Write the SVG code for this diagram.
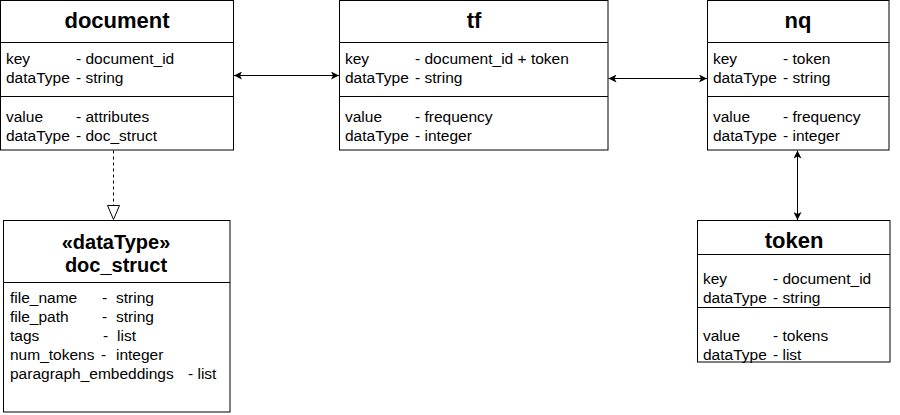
<svg xmlns="http://www.w3.org/2000/svg" width="900" height="415" viewBox="0 0 900 415">
<defs>
<marker id="arr" viewBox="0 0 10 10" refX="10" refY="5" markerWidth="8" markerHeight="8" markerUnits="userSpaceOnUse" orient="auto-start-reverse">
<path d="M0,0 L10,5 L0,10 L2.5,5 Z" fill="#000"/>
</marker>
</defs>
<style>
.box{fill:#fff;stroke:#000;stroke-width:1}
.ln{stroke:#000;stroke-width:1;fill:none}
.t{font-family:"Liberation Sans",Arial,sans-serif;font-size:22px;font-weight:bold;text-anchor:middle;fill:#000}
.t2{font-family:"Liberation Sans",Arial,sans-serif;font-size:20px;font-weight:bold;text-anchor:middle;fill:#000}
.b{font-family:"Liberation Sans",Arial,sans-serif;font-size:15.5px;fill:#000}
</style>
<rect x="0" y="0" width="900" height="415" fill="#fff"/>
<g id="document">
<rect class="box" x="0.5" y="0.5" width="233" height="149.5"/>
<line class="ln" x1="0.5" y1="42.5" x2="233.5" y2="42.5"/>
<line class="ln" x1="0.5" y1="96.5" x2="233.5" y2="96.5"/>
<text class="t" x="117" y="28">document</text>
<text class="b" x="6" y="64">key</text><text class="b" x="76" y="64">- document_id</text>
<text class="b" x="6" y="83">dataType</text><text class="b" x="76" y="83">- string</text>
<text class="b" x="6" y="122">value</text><text class="b" x="76" y="122">- attributes</text>
<text class="b" x="6" y="141">dataType</text><text class="b" x="76" y="141">- doc_struct</text>
</g>
<g id="tf">
<rect class="box" x="339.5" y="0.5" width="268.5" height="149.5"/>
<line class="ln" x1="339.5" y1="42.5" x2="608" y2="42.5"/>
<line class="ln" x1="339.5" y1="96.5" x2="608" y2="96.5"/>
<text class="t" x="474" y="28">tf</text>
<text class="b" x="345" y="64">key</text><text class="b" x="415" y="64">- document_id + token</text>
<text class="b" x="345" y="83">dataType</text><text class="b" x="415" y="83">- string</text>
<text class="b" x="345" y="122">value</text><text class="b" x="415" y="122">- frequency</text>
<text class="b" x="345" y="141">dataType</text><text class="b" x="415" y="141">- integer</text>
</g>
<g id="nq">
<rect class="box" x="707.5" y="0.5" width="181.5" height="149.5"/>
<line class="ln" x1="707.5" y1="42.5" x2="889" y2="42.5"/>
<line class="ln" x1="707.5" y1="96.5" x2="889" y2="96.5"/>
<text class="t" x="798" y="28">nq</text>
<text class="b" x="713" y="64">key</text><text class="b" x="783" y="64">- token</text>
<text class="b" x="713" y="83">dataType</text><text class="b" x="783" y="83">- string</text>
<text class="b" x="713" y="122">value</text><text class="b" x="783" y="122">- frequency</text>
<text class="b" x="713" y="141">dataType</text><text class="b" x="783" y="141">- integer</text>
</g>
<g id="doc_struct">
<rect class="box" x="3.5" y="220.5" width="226.5" height="191.5"/>
<line class="ln" x1="3.5" y1="282.5" x2="230" y2="282.5"/>
<text class="t2" x="116" y="249">«dataType»</text>
<text class="t2" x="116" y="272">doc_struct</text>
<text class="b" x="10" y="303">file_name</text><text class="b" x="102" y="303">-</text><text class="b" x="116" y="303">string</text>
<text class="b" x="10" y="322">file_path</text><text class="b" x="102" y="322">-</text><text class="b" x="116" y="322">string</text>
<text class="b" x="10" y="341">tags</text><text class="b" x="103" y="341">-</text><text class="b" x="117" y="341">list</text>
<text class="b" x="10" y="360">num_tokens</text><text class="b" x="101" y="360">-</text><text class="b" x="116" y="360">integer</text>
<text class="b" x="10" y="379">paragraph_embeddings</text><text class="b" x="188" y="379">- list</text>
</g>
<g id="token">
<rect class="box" x="697.5" y="220.5" width="192.5" height="141.5"/>
<line class="ln" x1="697.5" y1="254.5" x2="890" y2="254.5"/>
<line class="ln" x1="697.5" y1="307.5" x2="890" y2="307.5"/>
<text class="t" x="794" y="248">token</text>
<text class="b" x="703" y="284">key</text><text class="b" x="773" y="284">- document_id</text>
<text class="b" x="703" y="303">dataType</text><text class="b" x="773" y="303">- string</text>
<text class="b" x="703" y="341">value</text><text class="b" x="773" y="341">- tokens</text>
<text class="b" x="703" y="360">dataType</text><text class="b" x="773" y="360">- list</text>
</g>
<g id="connectors">
<line class="ln" x1="234" y1="75.5" x2="339" y2="75.5" marker-start="url(#arr)" marker-end="url(#arr)"/>
<line class="ln" x1="608.5" y1="78.5" x2="707" y2="78.5" marker-start="url(#arr)" marker-end="url(#arr)"/>
<line class="ln" x1="797.5" y1="150.5" x2="797.5" y2="220" marker-start="url(#arr)" marker-end="url(#arr)"/>
<line class="ln" x1="113.5" y1="150.5" x2="113.5" y2="205" stroke-dasharray="3,3"/>
<path class="ln" d="M107.5,205.5 L119.5,205.5 L113.5,219.5 Z" fill="#fff"/>
</g>
</svg>
